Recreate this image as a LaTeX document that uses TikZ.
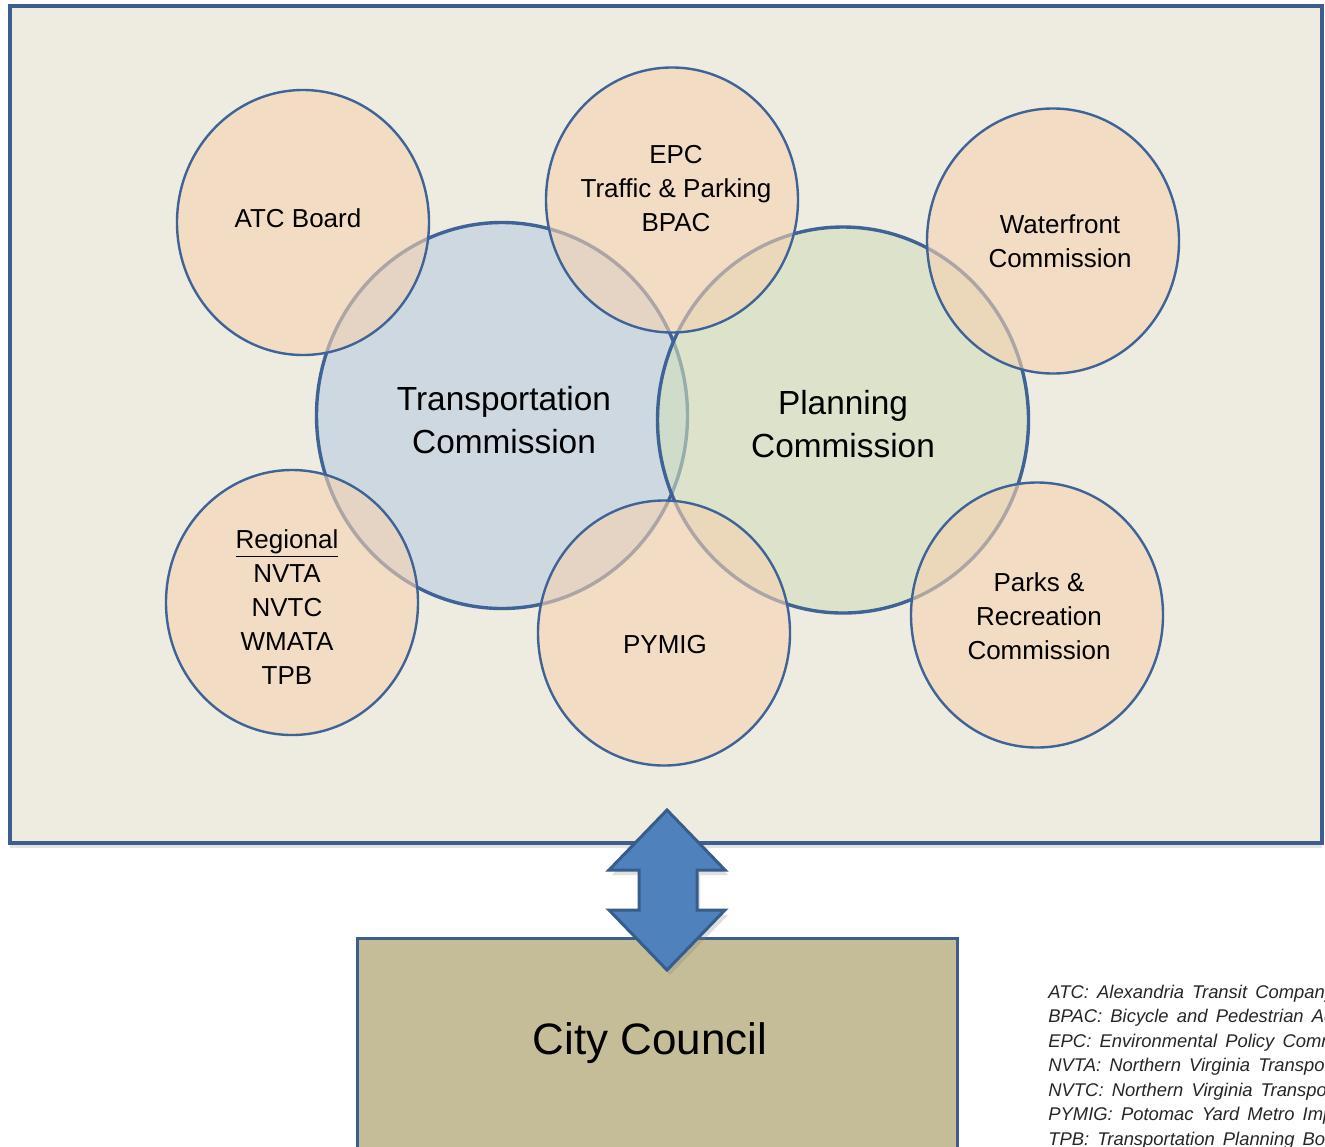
\documentclass[tikz,border=0pt]{standalone}
\usepackage{fontspec}
\setmainfont{Liberation Sans}
\newfontfamily\legendfont[WordSpace=1.6]{Liberation Sans}
\usetikzlibrary{shapes.geometric,shadows}
\definecolor{boxfill}{HTML}{EEEBE0}
\definecolor{boxline}{HTML}{3D5E8C}
\definecolor{circline}{HTML}{3F6396}
\definecolor{transfill}{HTML}{CED8E1}
\definecolor{planfill}{RGB}{210,223,188}
\definecolor{peach}{RGB}{245,210,177}
\definecolor{arrowfill}{HTML}{4F81BD}
\definecolor{arrowline}{HTML}{385D8A}
\definecolor{councilfill}{HTML}{C4BD97}
\definecolor{legendtext}{HTML}{262626}
\begin{document}
\begin{tikzpicture}[x=0.5pt,y=-0.5pt,
  panelbox/.style={draw=boxline, line width=2pt, fill=boxfill, inner sep=0pt,
    drop shadow={opacity=0.22, shadow xshift=0pt, shadow yshift=-2.5pt}},
  bigc/.style={ellipse, draw=circline, line width=1.7pt, inner sep=0pt,
    minimum width=185.5pt, minimum height=193pt},
  smallc/.style={ellipse, draw=circline, line width=1.2pt, fill=peach,
    fill opacity=0.6, draw opacity=1, inner sep=0pt,
    minimum width=126pt, minimum height=132.5pt},
  lbl/.style={align=center, font=\fontsize{13}{17}\selectfont, inner sep=0pt},
  biglbl/.style={align=center, font=\fontsize{16.7}{21.5}\selectfont, inner sep=0pt},
  legend/.style={anchor=base west, inner sep=0pt, text=legendtext,
    font=\legendfont\itshape\fontsize{9.2}{12.25}\selectfont},
  councilbox/.style={draw=boxline, line width=1.5pt, fill=councilfill, inner sep=0pt},
  bigarrow/.style={draw=arrowline, line width=1.5pt, fill=arrowfill, line join=miter,
    drop shadow={opacity=0.25, shadow xshift=1.5pt, shadow yshift=-2.5pt}}
]
\useasboundingbox (0,0) rectangle (1325,1146);
\clip (0,0) rectangle (1325,1146);
\fill[white] (0,0) rectangle (1325,1146);

% outer panel
\node[panelbox, minimum width=656pt, minimum height=418.5pt] (panel) at (666,424.5) {};

% big circles
\node[bigc, fill=transfill] (trans) at (502,415.5) {};
\node[bigc, fill=planfill, fill opacity=0.6, draw opacity=1] (plan) at (843,420) {};

% small circles
\node[smallc] (atc)   at (303,222.5) {};
\node[smallc] (epc)   at (672,200) {};
\node[smallc] (water) at (1053,241) {};
\node[smallc] (reg)   at (292,602.5) {};
\node[smallc] (pymig) at (664,633) {};
\node[smallc] (parks) at (1037,615) {};

% labels
\node[biglbl] (transT) at (504,420) {Transportation\\Commission};
\node[biglbl] (planT)  at (843,424.5) {Planning\\Commission};
\node[lbl] (atcT)   at (298,218) {ATC Board};
\node[lbl] (epcT)   at (676,189) {EPC\\Traffic \& Parking\\BPAC};
\node[lbl] (waterT) at (1060,241) {Waterfront\\Commission};
\node[lbl] (regT)   at (287,607) {\underline{Regional}\\NVTA\\NVTC\\WMATA\\TPB};
\node[lbl] (pymigT) at (665,645) {PYMIG};
\node[lbl] (parksT) at (1039,616.5) {Parks \&\\Recreation\\Commission};

% city council
\node[councilbox, minimum width=300pt, minimum height=116pt] (council) at (657,1054) {};
\node[inner sep=0pt, font=\fontsize{22}{26}\selectfont] (councilT) at (650,1043) {City Council};

% double arrow between panel and council
\draw[bigarrow] (667,810) -- (725,870) -- (697,870) -- (697,910) -- (725,910)
  -- (667,970) -- (609,910) -- (639,910) -- (639,870) -- (609,870) -- cycle;

% legend
\node[legend] (lg1) at (1048,998)   {ATC: Alexandria Transit Company};
\node[legend] (lg2) at (1048,1022.5) {BPAC: Bicycle and Pedestrian Advisory Committee};
\node[legend] (lg3) at (1048,1047)  {EPC: Environmental Policy Commission};
\node[legend] (lg4) at (1048,1071.5) {NVTA: Northern Virginia Transportation Authority};
\node[legend] (lg5) at (1048,1096)  {NVTC: Northern Virginia Transportation Commission};
\node[legend] (lg6) at (1048,1120.5) {PYMIG: Potomac Yard Metro Implementation Group};
\node[legend] (lg7) at (1048,1145)  {TPB: Transportation Planning Board};
\end{tikzpicture}
\end{document}
